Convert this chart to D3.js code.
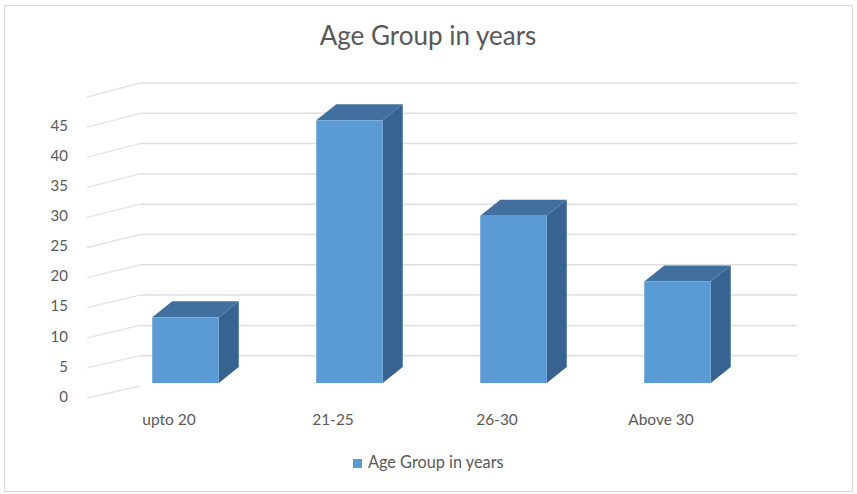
<!DOCTYPE html>
<html>
<head>
<meta charset="utf-8">
<script src="https://cdn.jsdelivr.net/npm/d3@7"></script>
<style>
  html, body { margin: 0; padding: 0; background: #fff; }
  svg text { font-family: Lato, "Open Sans", sans-serif; fill: #595959; }
</style>
</head>
<body>
<div id="app"></div>
<script>
// chart data
const categories = ["upto 20", "21-25", "26-30", "Above 30"]
const values = [11, 44, 28, 17]
const yTicks = [0, 5, 10, 15, 20, 25, 30, 35, 40, 45]
const gridLevels = [0, 5, 10, 15, 20, 25, 30, 35, 40, 45, 50]
const seriesName = "Age Group in years"
const titleText = "Age Group in years"

const width = 857
const height = 494

// 3d-ish layout: front floor edge, back wall, bar depth
const wallLeft = 140
const wallRight = 797
const barDepthX = 20
const barDepthY = -16
const barShift = 16.5
const barWidth = 66.5

const svg = d3.select('#app')
  .append('svg')
  .attr('width', width)
  .attr('height', height)

// chart frame
svg.append('rect')
  .attr('x', 4.5)
  .attr('y', 5.5)
  .attr('width', 848)
  .attr('height', 486)
  .attr('fill', '#fff')
  .attr('stroke', '#d9d9d9')

svg.append('text')
  .attr('x', 428)
  .attr('y', 38)
  .attr('text-anchor', 'middle')
  .attr('dominant-baseline', 'middle')
  .style('font-size', '26px')
  .text(titleText)

const x = d3.scaleBand().domain(categories).range([87, 743])
const yFront = d3.scaleLinear().domain([0, 50]).range([398, 97])
const yBack = d3.scaleLinear().domain([0, 50]).range([386, 83])
const yBar = d3.scaleLinear().domain([0, 50]).range([383, 84.5])

const grid = svg.append('g').attr('class', 'grid')

// diagonal lines on the side wall
grid.selectAll('line.side')
  .data(gridLevels)
  .enter()
  .append('line')
  .attr('class', 'side')
  .attr('x1', x.range()[0])
  .attr('y1', d => yFront(d))
  .attr('x2', wallLeft)
  .attr('y2', d => yBack(d))
  .attr('stroke', '#e3e3e3')
  .attr('stroke-width', 1.3)

// back wall lines
grid.selectAll('line.back')
  .data(gridLevels.filter(d => d > 0))
  .enter()
  .append('line')
  .attr('class', 'back')
  .attr('x1', wallLeft)
  .attr('y1', d => yBack(d))
  .attr('x2', wallRight)
  .attr('y2', d => yBack(d))
  .attr('stroke', '#dedede')
  .attr('stroke-width', 1.5)

// y labels
svg.append('g')
  .selectAll('text')
  .data(yTicks)
  .enter()
  .append('text')
  .attr('x', 68)
  .attr('y', d => yFront(d))
  .attr('text-anchor', 'end')
  .attr('dominant-baseline', 'middle')
  .style('font-size', '15px')
  .text(d => d)

// bars
const bars = svg.append('g')
  .selectAll('g')
  .data(categories.map((c, i) => ({ cat: c, value: values[i] })))
  .enter()
  .append('g')

const bx = d => x(d.cat) + x.bandwidth() / 2 + barShift - barWidth / 2

// side face
bars.append('path')
  .attr('fill', '#36638f')
  .attr('d', d => {
    const x0 = bx(d) + barWidth
    const y0 = yBar(0)
    const y1 = yBar(d.value)
    return `M${x0},${y0} L${x0},${y1} L${x0 + barDepthX},${y1 + barDepthY} L${x0 + barDepthX},${y0 + barDepthY} Z`
  })

// top face
bars.append('path')
  .attr('fill', '#41709f')
  .attr('d', d => {
    const x0 = bx(d)
    const y1 = yBar(d.value)
    return `M${x0},${y1} L${x0 + barDepthX},${y1 + barDepthY} L${x0 + barWidth + barDepthX},${y1 + barDepthY} L${x0 + barWidth},${y1} Z`
  })

// front face
bars.append('rect')
  .attr('fill', '#5b9bd5')
  .attr('x', d => bx(d))
  .attr('y', d => yBar(d.value))
  .attr('width', barWidth)
  .attr('height', d => yBar(0) - yBar(d.value))

// x labels
svg.append('g')
  .selectAll('text')
  .data(categories)
  .enter()
  .append('text')
  .attr('x', d => x(d) + x.bandwidth() / 2)
  .attr('y', 421)
  .attr('text-anchor', 'middle')
  .attr('dominant-baseline', 'middle')
  .style('font-size', '15.5px')
  .text(d => d)

// legend
const legend = svg.append('g')
legend.append('rect')
  .attr('x', 353)
  .attr('y', 459)
  .attr('width', 9)
  .attr('height', 9)
  .attr('fill', '#5b9bd5')
legend.append('text')
  .attr('x', 368)
  .attr('y', 464)
  .attr('dominant-baseline', 'middle')
  .style('font-size', '16.3px')
  .text(seriesName)
</script>
</body>
</html>
